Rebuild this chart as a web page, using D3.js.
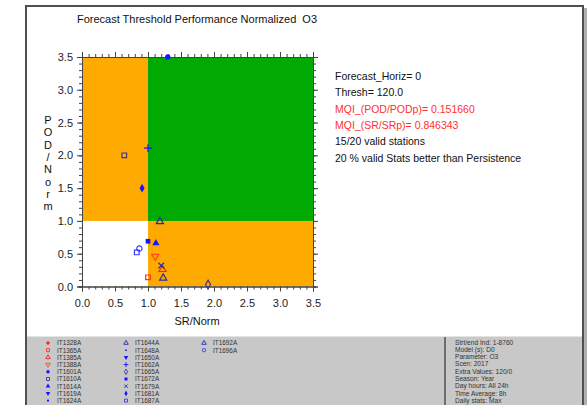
<!DOCTYPE html>
<html>
<head>
<meta charset="utf-8">
<script src="https://cdn.jsdelivr.net/npm/d3@7"></script>
<style>
  html, body { margin: 0; padding: 0; background: #ffffff; }
  svg { display: block; font-family: "Liberation Sans", Arial, sans-serif; }
</style>
</head>
<body>
<svg id="chart" width="587" height="405"></svg>
<script>
// Stations and their normalised scores (null = station without valid stats)
const stations = ["IT1328A","IT1365A","IT1385A","IT1388A","IT1601A","IT1610A","IT1614A","IT1619A","IT1624A","IT1644A",
                  "IT1648A","IT1650A","IT1662A","IT1665A","IT1672A","IT1679A","IT1681A","IT1687A","IT1692A","IT1696A"];
const srNorm  = [null, 1.00, 1.22, 1.11, 1.30, 0.64, 1.12, null, null, 1.23, null, null, 1.00, 1.91, 1.00, 1.20, 0.91, 0.83, 1.18, 0.87];
const podNorm = [null, 0.14, 0.26, 0.46, 3.50, 2.00, 0.66, null, null, 0.13, null, null, 2.11, 0.03, 0.69, 0.32, 1.50, 0.52, 0.99, 0.58];
const symbolNames = ["circle","square","triangle","triangleDown","circle","square","triangle","triangleDown","dot","triangle",
                     "dash","triangleDown","plus","diamond","square","times","diamond","square","triangle","circle"];
const filled  = [true, false, false, false, true, false, true, true, true, false, true, true, false, false, true, false, true, false, false, false];
const colors  = ["#ff2020","#ff3030","#ff2020","#ff4a10","#1515ff","#4030a0","#1515ff","#1515ff","#1515ff","#2a2aa8",
                 "#1515ff","#1515ff","#1515ff","#4030a0","#1515ff","#2a2aa8","#1515ff","#3a3aff","#2a2aa8","#3a3aff"];

const axisTicks = [0, 0.5, 1, 1.5, 2, 2.5, 3, 3.5];
const infoLines = [
  {text: "Forecast_Horiz= 0", color: "#111"},
  {text: "Thresh= 120.0", color: "#111"},
  {text: "MQI_(POD/PODp)= 0.151660", color: "#ff3030"},
  {text: "MQI_(SR/SRp)= 0.846343", color: "#ff3030"},
  {text: "15/20 valid stations", color: "#111"},
  {text: "20 % valid Stats better than Persistence", color: "#111"}
];
const runInfo = ["Strt/end Ind: 1-8760","Model (s): D0","Parameter: O3","Scen: 2017","Extra Values: 120/0",
                 "Season: Year","Day hours: All 24h","Time Average: 8h","Daily stats: Max"];
const yLabel = "POD/Norm";

const svg = d3.select("#chart");

// page frame
svg.append("rect").attr("x", 584).attr("y", 8).attr("width", 3).attr("height", 397).attr("fill", "#b0b0b0");
svg.append("rect").attr("x", 27).attr("y", 337).attr("width", 556).attr("height", 68).attr("fill", "#c8c8c8");
svg.append("line").attr("x1", 27).attr("x2", 583).attr("y1", 336.5).attr("y2", 336.5).attr("stroke", "#e4e4e4");
svg.append("path").attr("d", "M26,405V6H583V405").attr("fill", "none").attr("stroke", "#505050").attr("stroke-width", 2);
svg.append("line").attr("x1", 445).attr("x2", 445).attr("y1", 337).attr("y2", 405).attr("stroke", "#505050").attr("stroke-width", 1.5);

// scales
const x = d3.scaleLinear().domain([0, 3.5]).range([82, 313]);
const y = d3.scaleLinear().domain([0, 3.5]).range([286.5, 57]);

// quadrant background
const g = svg.append("g");
g.append("rect").attr("x", x(0)).attr("y", y(3.5)).attr("width", x(3.5) - x(0)).attr("height", y(0) - y(3.5)).attr("fill", "#ffaa00");
g.append("rect").attr("x", x(1)).attr("y", y(3.5)).attr("width", x(3.5) - x(1)).attr("height", y(1) - y(3.5)).attr("fill", "#00aa00");
g.append("rect").attr("x", x(0)).attr("y", y(1)).attr("width", x(1) - x(0)).attr("height", y(0) - y(1)).attr("fill", "#ffffff");

// axes: major ticks every 0.5, minor every 0.1
const minor = d3.range(0, 36).map(d => d / 10);
function styleAxis(sel) {
  sel.select(".domain").attr("stroke", "#444");
  sel.selectAll(".tick line").attr("stroke", "#444");
  sel.selectAll("text").attr("fill", "#222").style("font-size", "11px").style("font-family", "Liberation Sans, Arial, sans-serif");
}
const fmt = d3.format(".1f");
[[d3.axisBottom, y(0), true], [d3.axisTop, y(3.5), false]].forEach(([ax, pos, lbl]) => {
  svg.append("g").attr("transform", `translate(0,${pos})`)
    .call(ax(x).tickValues(minor).tickSize(3).tickFormat(""))
    .call(styleAxis);
  svg.append("g").attr("transform", `translate(0,${pos})`)
    .call(ax(x).tickValues(axisTicks).tickSize(5).tickPadding(8).tickFormat(lbl ? fmt : ""))
    .call(styleAxis);
});
[[d3.axisLeft, x(0), true], [d3.axisRight, x(3.5), false]].forEach(([ax, pos, lbl]) => {
  svg.append("g").attr("transform", `translate(${pos},0)`)
    .call(ax(y).tickValues(minor).tickSize(3).tickFormat(""))
    .call(styleAxis);
  svg.append("g").attr("transform", `translate(${pos},0)`)
    .call(ax(y).tickValues(axisTicks).tickSize(5).tickPadding(4).tickFormat(lbl ? fmt : ""))
    .call(styleAxis);
});

// symbols
function symbolPath(name, size) {
  const map = {
    circle: d3.symbolCircle, square: d3.symbolSquare, triangle: d3.symbolTriangle,
    diamond: d3.symbolDiamond, plus: d3.symbolPlus, times: d3.symbolTimes
  };
  if (name === "triangleDown") return d3.symbol(d3.symbolTriangle, size)();
  if (name === "dot") return d3.symbol(d3.symbolCircle, size * 0.45)();
  if (name === "dash") return d3.symbol(d3.symbolSquare, size * 0.3)();
  return d3.symbol(map[name], size)();
}
function drawSymbol(parent, i, cx, cy, size, sw) {
  const isStroke = ["plus", "times"].includes(symbolNames[i]);
  const p = parent.append("path")
    .attr("d", symbolPath(symbolNames[i], size))
    .attr("transform", `translate(${cx},${cy})` + (symbolNames[i] === "triangleDown" ? " rotate(180)" : ""));
  if (filled[i] && !isStroke) p.attr("fill", colors[i]).attr("stroke", "none");
  else p.attr("fill", "none").attr("stroke", colors[i]).attr("stroke-width", sw);
}

// data points
const pts = svg.append("g");
stations.forEach((s, i) => {
  if (srNorm[i] === null || podNorm[i] === null) return;
  drawSymbol(pts, i, x(srNorm[i]), y(podNorm[i]), 22, 1.2);
});

// titles
svg.append("text").attr("x", 197).attr("y", 23).attr("text-anchor", "middle")
  .style("font-size", "11px").style("white-space", "pre").attr("fill", "#111")
  .text("Forecast Threshold Performance Normalized  O3");
svg.append("text").attr("x", 197).attr("y", 325).attr("text-anchor", "middle")
  .style("font-size", "11px").attr("fill", "#111").text("SR/Norm");
svg.append("g").selectAll("text").data(yLabel.split("")).join("text")
  .attr("x", 48).attr("y", (d, i) => 124 + i * 12.3).attr("text-anchor", "middle")
  .style("font-size", "11px").attr("fill", "#111").text(d => d);

// statistics text
svg.append("g").selectAll("text").data(infoLines).join("text")
  .attr("x", 335).attr("y", (d, i) => 80 + i * 16.3)
  .style("font-size", "10.5px").attr("fill", d => d.color).text(d => d.text);

// station legend
const leg = svg.append("g");
stations.forEach((s, i) => {
  const col = Math.floor(i / 9), row = i % 9;
  const lx = 48 + col * 78, ly = 343 + row * 7.2;
  drawSymbol(leg, i, lx, ly, 9, 0.9);
  leg.append("text").attr("x", lx + 9).attr("y", ly + 2.3)
    .style("font-size", "6.4px").attr("fill", "#333").text(s);
});

// run information
svg.append("g").selectAll("text").data(runInfo).join("text")
  .attr("x", 455).attr("y", (d, i) => 344.5 + i * 7.3)
  .style("font-size", "6.6px").attr("fill", "#333").text(d => d);
</script>
</body>
</html>
